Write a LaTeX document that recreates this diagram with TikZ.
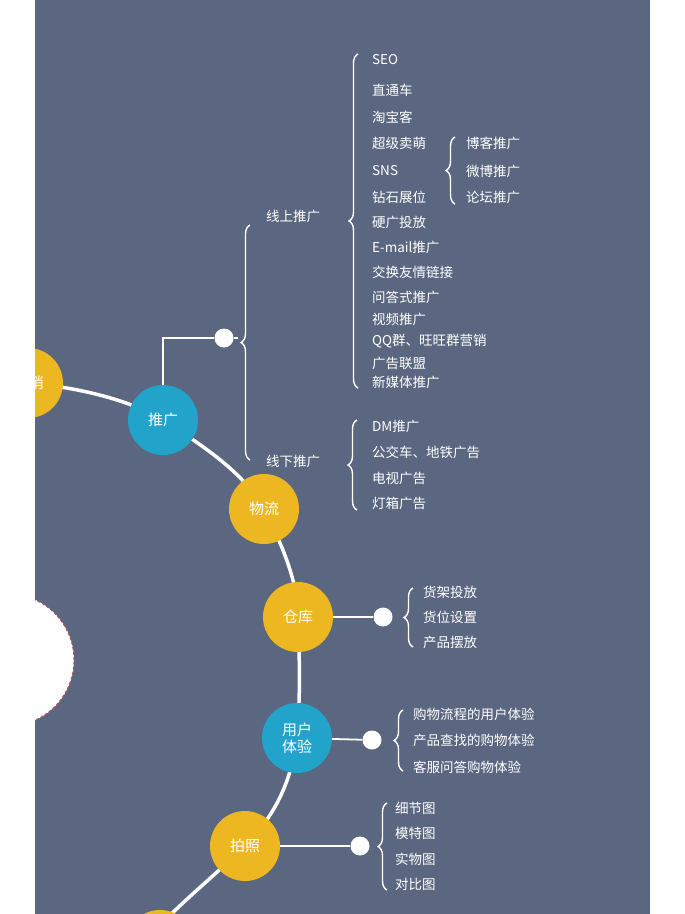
\documentclass[tikz,border=0pt]{standalone}
\usepackage{fontspec}
\setmainfont{Noto Sans CJK SC}
\usetikzlibrary{decorations.pathreplacing}
\definecolor{bg}{HTML}{5B6780}
\definecolor{ylw}{HTML}{EDB722}
\definecolor{blu}{HTML}{22A3C9}
\definecolor{dred}{HTML}{C0504D}
\tikzset{
 bub/.style={circle,minimum size=70pt,inner sep=0pt,text=white,font=\fontsize{15}{16}\selectfont,align=center},
 yb/.style={bub,fill=ylw}, bb/.style={bub,fill=blu},
 itm/.style={anchor=west,text=white,inner sep=0pt,font=\fontsize{13.5}{15}\selectfont},
 dot/.style={circle,fill=white,minimum size=19pt,inner sep=0pt},
 brc/.style={draw=white,line width=1.4pt,decorate,decoration={brace,amplitude=9pt,mirror}},
 conn/.style={draw=white,line width=1.8pt},
 arcl/.style={draw=white,line width=3.5pt}
}
\begin{document}
\begin{tikzpicture}[x=1pt,y=-1pt]
\useasboundingbox (0,0) rectangle (685,914);
\fill[white] (0,0) rectangle (685,914);
\fill[bg] (35,0) rectangle (650,914);
\begin{scope}
\clip (35,0) rectangle (650,914);
\draw[arcl] (30,383) .. controls (80,388) and (130,400) .. (163,420) .. controls (210,450) and (245,475) .. (264,509) .. controls (285,550) and (298,585) .. (298,617) .. controls (300,670) and (300,700) .. (297,738) .. controls (290,790) and (270,820) .. (245,846) .. controls (215,875) and (190,895) .. (160,925);
\node[yb] (xiao) at (28,383) {};
\node[text=white,font=\fontsize{15}{16}\selectfont] (xiaot) at (36,383) {销};
\node[circle,fill=white,draw=dred,densely dashed,line width=1pt,minimum size=132pt] (cen) at (8,660) {};
\node[yb] (bot) at (160,945) {};
\end{scope}
\node[bb] (tg) at (163,420) {推广};
\node[yb] (wl) at (264,509) {物流};
\node[yb] (ck) at (298,617) {仓库};
\node[bb] (ty) at (297,738) {用户\\[1pt]体验};
\node[yb] (pz) at (245,846) {拍照};
% promotion
\node[dot] (d1) at (224,338) {};
\draw[conn] (tg.north) |- (d1);
\draw[brc] (250,225) -- (250,460);
\draw[conn] (d1) -- (238,338);
\node[itm] (on) at (266,216) {线上推广};
\node[itm] (off) at (266,461) {线下推广};
\draw[brc] (358,54) -- (358,388);
\foreach \t/\y [count=\i] in {SEO/60,直通车/90,淘宝客/117,超级卖萌/143,SNS/171,钻石展位/197,硬广投放/222,E-mail推广/247,交换友情链接/272,问答式推广/297,视频推广/319,QQ群、旺旺群营销/341,广告联盟/363,新媒体推广/382}
 \node[itm] (on\i) at (372,\y) {\t};
\draw[brc] (455,137) -- (455,204);
\foreach \t/\y [count=\i] in {博客推广/143,微博推广/171,论坛推广/197}
 \node[itm] (sn\i) at (466,\y) {\t};
\draw[brc] (357,420) -- (357,510);
\foreach \t/\y [count=\i] in {DM推广/426,公交车、地铁广告/452,电视广告/478,灯箱广告/503}
 \node[itm] (of\i) at (372,\y) {\t};
% warehouse
\node[dot] (d2) at (383,617) {};
\draw[conn] (ck) -- (d2);
\draw[brc] (413,588) -- (413,647);
\foreach \t/\y [count=\i] in {货架投放/592,货位设置/617,产品摆放/642}
 \node[itm] (ck\i) at (423,\y) {\t};
% user experience
\node[dot] (d3) at (372,740) {};
\draw[conn] (ty) -- (d3);
\draw[brc] (403,710) -- (403,771);
\foreach \t/\y [count=\i] in {购物流程的用户体验/714,产品查找的购物体验/740,客服问答购物体验/767}
 \node[itm] (ty\i) at (413,\y) {\t};
% photo
\node[dot] (d4) at (360,846) {};
\draw[conn] (pz) -- (d4);
\draw[brc] (387,803) -- (387,890);
\foreach \t/\y [count=\i] in {细节图/808,模特图/833,实物图/859,对比图/884}
 \node[itm] (pz\i) at (395,\y) {\t};
\end{tikzpicture}
\end{document}
